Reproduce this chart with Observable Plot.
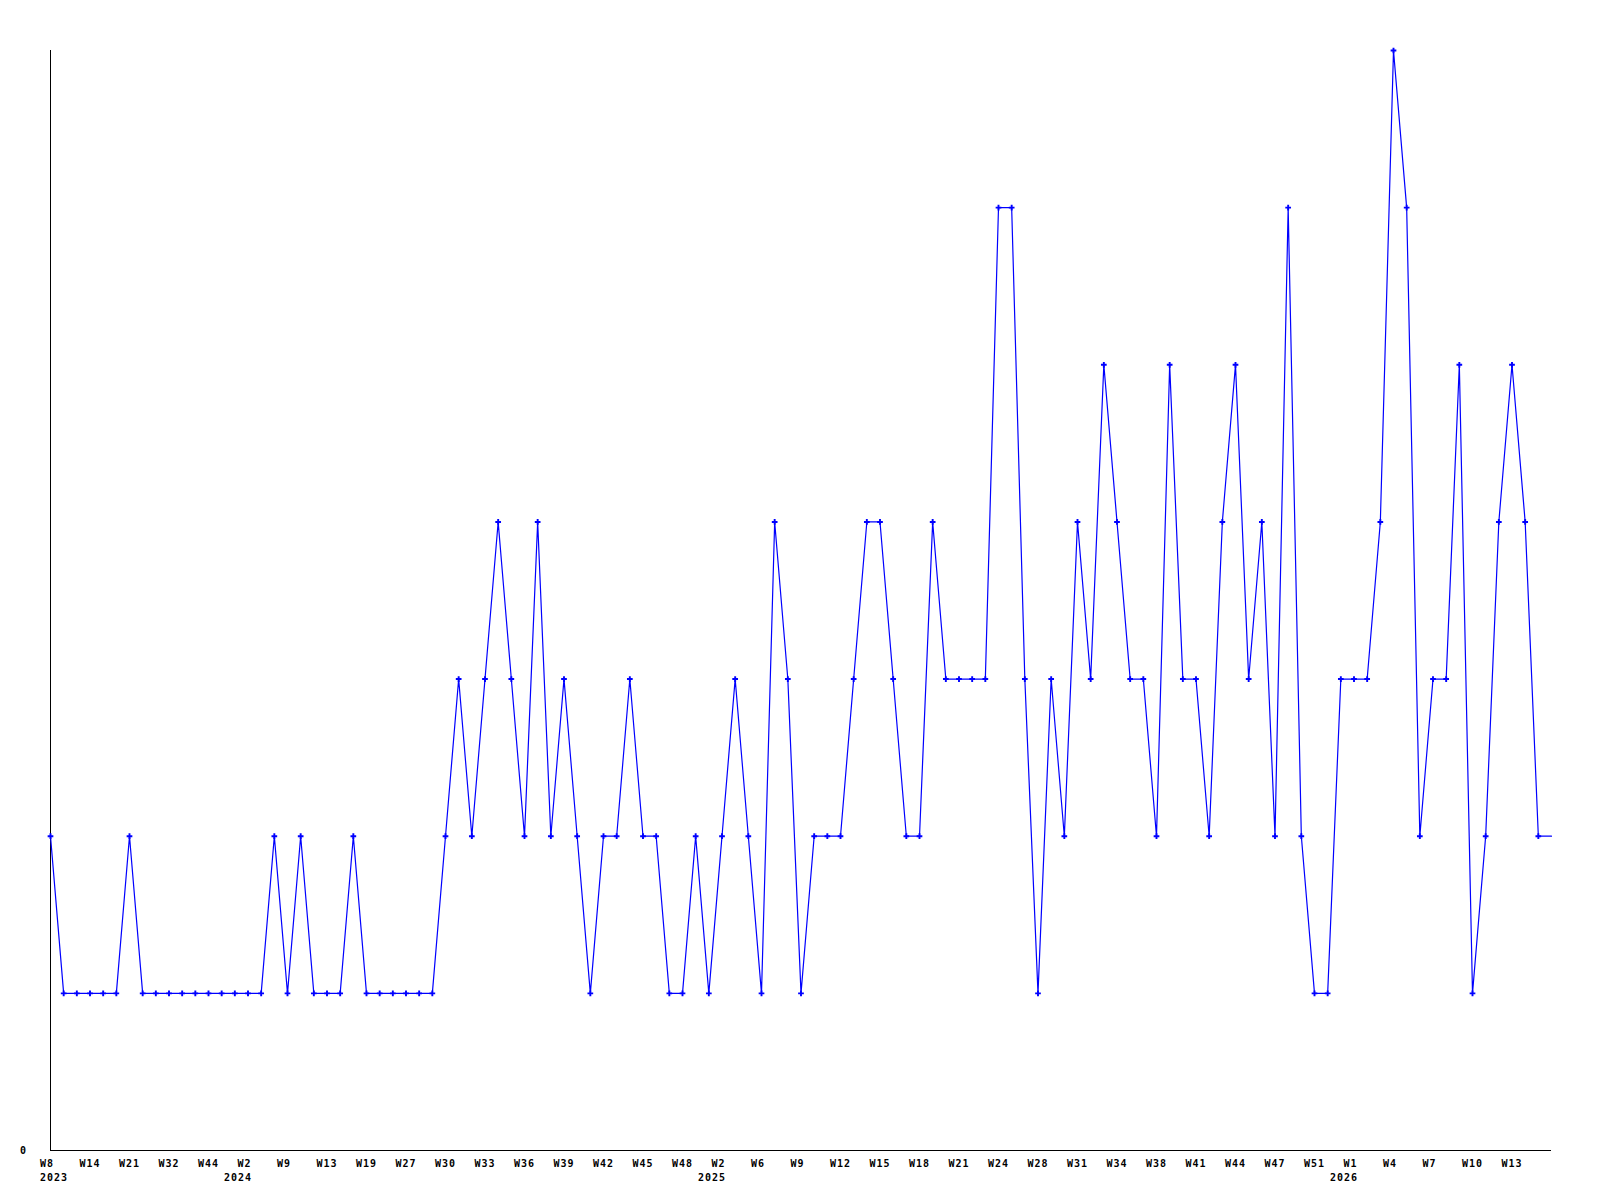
<!DOCTYPE html>
<html>
<head>
<meta charset="utf-8">
<script src="https://cdn.jsdelivr.net/npm/d3@7"></script>
<script src="https://cdn.jsdelivr.net/npm/@observablehq/plot@0.6"></script>
<style>
  html, body { margin: 0; padding: 0; background: #ffffff; }
  #chart { width: 1600px; height: 1200px; }
</style>
</head>
<body>
<div id="chart"></div>
<script>
// Weekly values, one per consecutive data week (index 0 = 2023 W8)
const values = [
  2,1,1,1,1,1,2,1,1,1,
  1,1,1,1,1,1,1,2,1,2,
  1,1,1,2,1,1,1,1,1,1,
  2,3,2,3,4,3,2,4,2,3,
  2,1,2,2,3,2,2,1,1,2,
  1,2,3,2,1,4,3,1,2,2,
  2,3,4,4,3,2,2,4,3,3,
  3,3,6,6,3,1,3,2,4,3,
  5,4,3,3,2,5,3,3,2,4,
  5,3,4,2,6,2,1,1,3,3,
  3,4,7,6,2,3,3,5,1,2,
  4,5,4,2,2
];

// Tick labels, shown on every third data week
const weekLabels = [
  "W8","W14","W21","W32","W44","W2","W9","W13","W19","W27",
  "W30","W33","W36","W39","W42","W45","W48","W2","W6","W9",
  "W12","W15","W18","W21","W24","W28","W31","W34","W38","W41",
  "W44","W47","W51","W1","W4","W7","W10","W13"
];
const tickStep = 3;

// Year labels and the data week they sit under
const yearLabels = ["2023","2024","2025","2026"];
const yearIndex = [0, 15, 51, 99];

const yTickLabels = ["0"];

const points = values.map((v, i) => ({i, v}));
const dotPoints = points.slice(0, points.length - 1);
const ticks = weekLabels.map((label, k) => ({i: k * tickStep, label}));
const years = yearLabels.map((label, k) => ({i: yearIndex[k], label}));

const font = "'DejaVu Sans Mono', monospace";

const chart = Plot.plot({
  width: 1600,
  height: 1200,
  marginLeft: 50,
  marginRight: 49,
  marginTop: 50,
  marginBottom: 50,
  style: {background: "#ffffff", fontFamily: font, overflow: "visible"},
  x: {type: "linear", domain: [0, values.length - 1], axis: null},
  y: {type: "linear", domain: [0, 7], axis: null},
  marks: [
    Plot.ruleX([0], {stroke: "#000000", strokeWidth: 1}),
    Plot.ruleY([0], {stroke: "#000000", strokeWidth: 1}),
    Plot.line(points, {x: "i", y: "v", stroke: "#0000ff", strokeWidth: 1.2}),
    Plot.dot(dotPoints, {x: "i", y: "v", symbol: "cross", r: 2.4, fill: "#0000ff", stroke: "none"}),
    Plot.text(yTickLabels, {
      x: 0, y: 0, text: d => d, textAnchor: "end", lineAnchor: "middle",
      dx: -23.5, fontSize: 10, fontWeight: "bold", fill: "#000000"
    }),
    Plot.text(ticks, {
      x: "i", y: 0, text: "label", textAnchor: "start", lineAnchor: "top",
      dx: -10.5, dy: 9, fontSize: 10, fontWeight: "bold", fill: "#000000"
    }),
    Plot.text(years.filter((d, k) => k === 0), {
      x: "i", y: 0, text: "label", textAnchor: "start", lineAnchor: "top",
      dx: -10.5, dy: 23, fontSize: 10, fontWeight: "bold", fill: "#000000"
    }),
    Plot.text(years.filter((d, k) => k > 0), {
      x: "i", y: 0, text: "label", textAnchor: "end", lineAnchor: "top",
      dx: 4, dy: 23, fontSize: 10, fontWeight: "bold", fill: "#000000"
    })
  ]
});

chart.querySelectorAll("text").forEach(t => t.setAttribute("letter-spacing", "1"));
document.getElementById("chart").appendChild(chart);
</script>
</body>
</html>
